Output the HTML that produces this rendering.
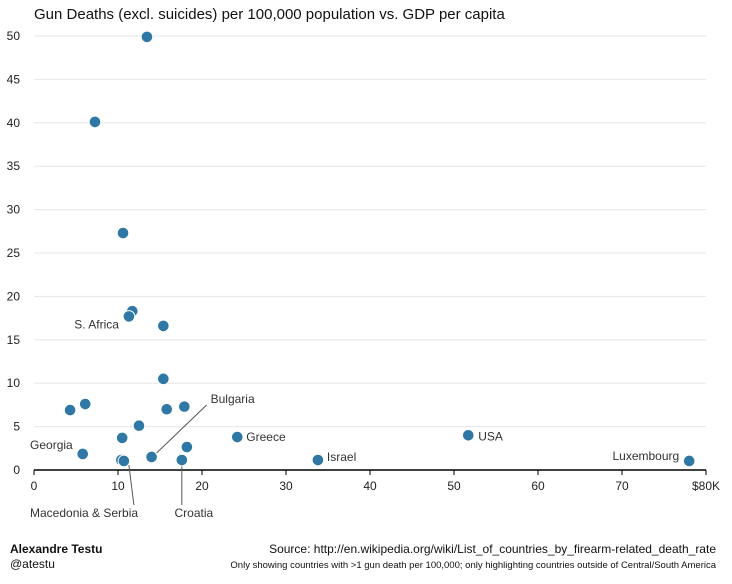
<!DOCTYPE html>
<html><head><meta charset="utf-8"><style>
body{margin:0;background:#fff;font-family:"Liberation Sans",sans-serif;}
svg text{font-family:"Liberation Sans",sans-serif;}
</style></head><body>
<svg width="732" height="579" id="c">
<text x="34" y="19" font-size="15" fill="#111">Gun Deaths (excl. suicides) per 100,000 population vs. GDP per capita</text>
<g id="grid"></g><g id="axis"></g><g id="ann"></g><g id="pts"></g>
<text x="10" y="553" font-size="12" font-weight="bold" fill="#111">Alexandre Testu</text>
<text x="10" y="568" font-size="12" fill="#111">@atestu</text>
<text x="716" y="553" font-size="12" fill="#111" text-anchor="end">Source: http://en.wikipedia.org/wiki/List_of_countries_by_firearm-related_death_rate</text>
<text x="716" y="568" font-size="9.5" fill="#111" text-anchor="end">Only showing countries with &gt;1 gun death per 100,000; only highlighting countries outside of Central/South America</text>
</svg>
<script>
const gdp=[13.45,7.26,10.6,11.7,11.3,15.4,15.4,6.1,4.3,15.8,17.9,12.5,10.5,24.2,18.2,5.8,14.0,10.4,10.7,17.6,33.8,51.7,78.0];
const deaths=[49.9,40.1,27.3,18.3,17.7,16.6,10.5,7.6,6.9,7.0,7.3,5.1,3.7,3.8,2.65,1.85,1.5,1.15,1.04,1.15,1.15,4.0,1.04];
const names=["","","","","S. Africa","","","","","","","","","Greece","","Georgia","Bulgaria","Macedonia","Serbia","Croatia","Israel","USA","Luxembourg"];
const xTicks=[0,10,20,30,40,50,60,70,80];
const xTickLabels=["0","10","20","30","40","50","60","70","$80K"];
const yTicks=[0,5,10,15,20,25,30,35,40,45,50];
const X=v=>34+v*8.4, Y=v=>470-v*8.68;
const NS="http://www.w3.org/2000/svg";
function mk(p,t,a){const e=document.createElementNS(NS,t);for(const k in a)e.setAttribute(k,a[k]);p.appendChild(e);return e;}
const grid=document.getElementById('grid'),axis=document.getElementById('axis'),ann=document.getElementById('ann'),pts=document.getElementById('pts');
yTicks.forEach(v=>{
 if(v>0){const l=mk(grid,'line',{x1:34,x2:706,y1:Y(v),y2:Y(v),stroke:'#e6e6e6'});
 
 }
 const t=mk(axis,'text',{x:20,y:Y(v)+4,'font-size':12,fill:'#222','text-anchor':'end'});t.textContent=v;
 
 
});
const ax=mk(axis,'line',{x1:34,x2:706,y1:470,y2:470,stroke:'#000','stroke-width':1.5});


xTicks.forEach((v,i)=>{
 mk(axis,'line',{x1:X(v),x2:X(v),y1:470,y2:475,stroke:'#000'});
 const t=mk(axis,'text',{x:X(v),y:490,'font-size':12,fill:'#222','text-anchor':'middle'});t.textContent=xTickLabels[i];
 
 
});
function lab(txt,x,y,anchor){const t=mk(ann,'text',{x:x,y:y,'font-size':12,fill:'#333','text-anchor':anchor||'start'});t.textContent=txt;
 
 }
function ln(x1,y1,x2,y2){mk(ann,'line',{x1,y1,x2,y2,stroke:'#555','stroke-width':1});}
const idx=n=>names.indexOf(n);
let i=idx("S. Africa");lab("S. Africa",X(gdp[i])-10,Y(deaths[i])+12,'end');
i=idx("Greece");lab("Greece",X(gdp[i])+9,Y(deaths[i])+4);
i=idx("Georgia");lab("Georgia",X(gdp[i])-10,Y(deaths[i])-5,'end');
i=idx("Israel");lab("Israel",X(gdp[i])+9,Y(deaths[i])+1);
i=idx("USA");lab("USA",X(gdp[i])+10,Y(deaths[i])+5);
i=idx("Luxembourg");lab("Luxembourg",X(gdp[i])-10,Y(deaths[i])-1,'end');
i=idx("Bulgaria");ln(X(gdp[i])+5,Y(deaths[i])-4,X(gdp[i])+55,Y(deaths[i])-52);lab("Bulgaria",X(gdp[i])+59,Y(deaths[i])-54);
i=idx("Serbia");ln(X(gdp[i])+5,Y(deaths[i])+4,X(gdp[i])+10,505);lab("Macedonia & Serbia",30,517,'start');
i=idx("Croatia");ln(X(gdp[i]),Y(deaths[i])+5,X(gdp[i]),505);lab("Croatia",X(gdp[i])+12,517,'middle');
gdp.forEach((g,k)=>{
 const c=mk(pts,'circle',{cx:X(g),cy:Y(deaths[k]),r:5.8,fill:'#2f78a6',stroke:'#fff','stroke-width':1});
 
 
});
</script>
</body></html>
